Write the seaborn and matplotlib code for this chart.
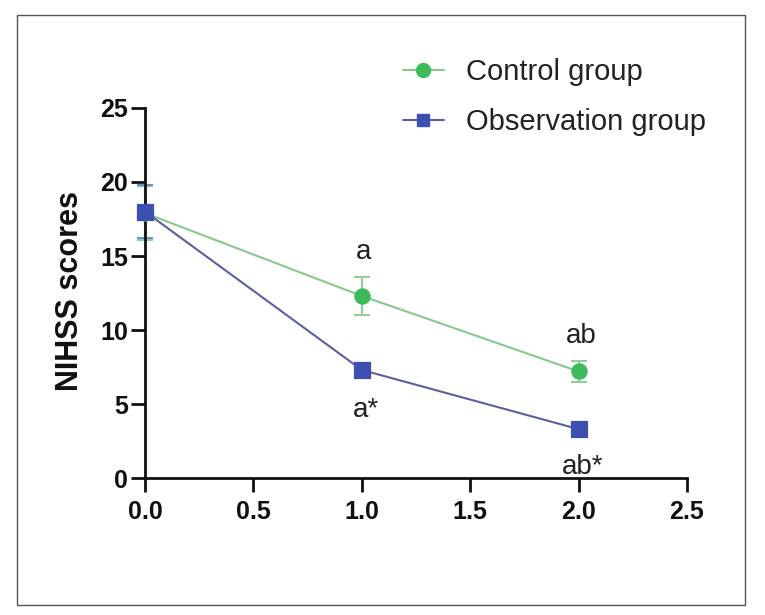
import matplotlib
matplotlib.use("Agg")
import matplotlib.pyplot as plt
from matplotlib.lines import Line2D
import seaborn as sns
import pandas as pd

time_points = [0.0, 1.0, 2.0]
control_mean = [17.9, 12.3, 7.2]
control_err = [1.8, 1.3, 0.7]
obs_mean = [18.0, 7.3, 3.3]
obs_err = [1.8, 0.5, 0.3]
groups = ["Control group", "Observation group"]
control_labels = ["", "a", "ab"]
obs_labels = ["", "a*", "ab*"]
x_ticks = [0.0, 0.5, 1.0, 1.5, 2.0, 2.5]
y_ticks = [0, 5, 10, 15, 20, 25]

sns.set_style("ticks")
plt.rcParams['font.family'] = ['Liberation Sans', 'DejaVu Sans']

df = pd.DataFrame({
    "time": time_points * 2,
    "score": control_mean + obs_mean,
    "err": control_err + obs_err,
    "group": [groups[0]] * 3 + [groups[1]] * 3,
})

fig = plt.figure(figsize=(7.65, 6.15), dpi=100)
ax = fig.add_axes([145/765, 1 - 478/615, (687-145)/765, (478-108)/615])

green = "#3dba5a"
blue = "#3d4fb0"
line_colors = {groups[0]: "#86c98c", groups[1]: "#5b5f9e"}
marker_colors = {groups[0]: green, groups[1]: blue}
err_colors = {groups[0]: "#8fd09a", groups[1]: "#6f8fc0"}
markers = {groups[0]: "o", groups[1]: "s"}

for g in groups:
    sub = df[df["group"] == g]
    ax.errorbar(sub["time"], sub["score"], yerr=sub["err"], fmt="none",
                ecolor=err_colors[g], elinewidth=1.5, capsize=5.5, capthick=1.5, zorder=2)
    sns.lineplot(data=sub, x="time", y="score", ax=ax, color=line_colors[g],
                 linewidth=1.5, zorder=3, legend=False)
    sns.scatterplot(data=sub, x="time", y="score", ax=ax, color=marker_colors[g],
                    marker=markers[g], s=120, edgecolor=marker_colors[g], zorder=4, legend=False)

for x, y, e, lab in zip(time_points, control_mean, control_err, control_labels):
    if lab:
        ax.text(x + 0.01, y + e + 0.8, lab, ha="center", va="bottom", fontsize=20, color="#222222")
for x, y, e, lab in zip(time_points, obs_mean, obs_err, obs_labels):
    if lab:
        ax.text(x + 0.02, y - e - 1.35, lab, ha="center", va="top", fontsize=20, color="#222222")

ax.set_xlim(0, 2.5)
ax.set_ylim(0, 25)
ax.set_xticks(x_ticks)
ax.set_yticks(y_ticks)
ax.set_xticklabels([f"{t:.1f}" for t in x_ticks])
ax.set_yticklabels([str(t) for t in y_ticks])
ax.set_xlabel("")
ax.set_ylabel("NIHSS scores", fontsize=22, fontweight="bold", color="#111111")
ax.yaxis.set_label_coords(-0.110, 0.505)
ax.tick_params(axis="both", width=2, length=10, direction="out", color="#111111",
               labelsize=18, labelcolor="#111111")
ax.tick_params(axis="x", pad=6)
ax.tick_params(axis="y", pad=2)
for lbl in ax.get_xticklabels() + ax.get_yticklabels():
    lbl.set_fontweight("bold")
for s in ["left", "bottom"]:
    ax.spines[s].set_linewidth(2)
    ax.spines[s].set_color("#111111")
ax.spines["top"].set_visible(False)
ax.spines["right"].set_visible(False)
for c in ax.collections + ax.lines:
    c.set_clip_on(False)

handles = [
    Line2D([], [], color=line_colors[groups[0]], marker="o", markerfacecolor=green,
           markeredgecolor=green, markersize=10, linewidth=1.5),
    Line2D([], [], color=line_colors[groups[1]], marker="s", markerfacecolor=blue,
           markeredgecolor=blue, markersize=9, linewidth=1.5),
]
fig.legend(handles, groups, loc="upper left", bbox_to_anchor=(403/765, 1 - 58/615),
           frameon=False, fontsize=21, handlelength=1.4, labelspacing=0.75,
           handletextpad=0.75, borderpad=0, borderaxespad=0, labelcolor="#222222")

border = plt.Rectangle((17/765, 1 - 605/615), (745-17)/765, (605-15)/615,
                       transform=fig.transFigure, fill=False, edgecolor="#555555", linewidth=1)
fig.patches.append(border)

fig.savefig("out.png", dpi=100)
